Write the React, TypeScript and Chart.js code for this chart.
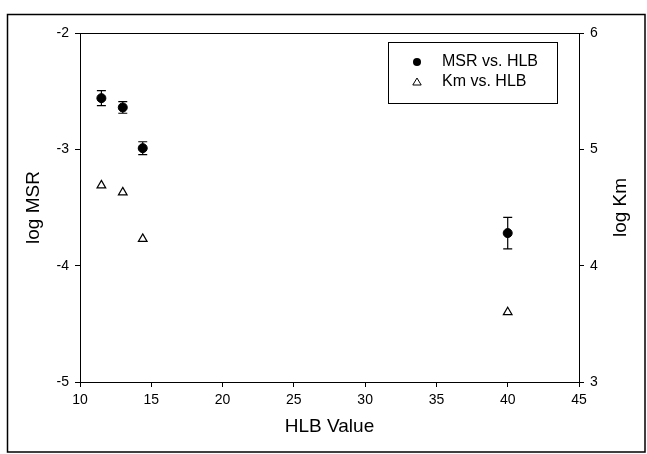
import { useEffect, useRef } from "react";
import { Chart, registerables } from "chart.js";

Chart.register(...registerables);

// ---- data ----
const hlbValues = [11.5, 13.0, 14.4, 40];
const logMSR = [-2.56, -2.64, -2.99, -3.72];
const logMSRError = [0.065, 0.05, 0.055, 0.135];
const logKm = [4.69, 4.63, 4.23, 3.6];
const seriesLabels = ["MSR vs. HLB", "Km vs. HLB"];
const xTitle = "HLB Value";
const yLeftTitle = "log MSR";
const yRightTitle = "log Km";
const xRange = [10, 45];
const yLeftRange = [-5, -2];
const yRightRange = [3, 6];

const FONT = "'Liberation Sans', Arial, Helvetica, sans-serif";

const errorBarPlugin = {
  id: "errorBars",
  afterDatasetsDraw(chart: any) {
    const meta = chart.getDatasetMeta(0);
    const ys = chart.scales.y;
    const ctx = chart.ctx;
    ctx.save();
    ctx.strokeStyle = "#000";
    ctx.lineWidth = 1.2;
    meta.data.forEach((pt: any, i: number) => {
      const v = logMSR[i];
      const e = logMSRError[i];
      const yT = ys.getPixelForValue(v + e);
      const yB = ys.getPixelForValue(v - e);
      const x = pt.x;
      ctx.beginPath();
      ctx.moveTo(x, yT);
      ctx.lineTo(x, yB);
      ctx.moveTo(x - 4.5, yT);
      ctx.lineTo(x + 4.5, yT);
      ctx.moveTo(x - 4.5, yB);
      ctx.lineTo(x + 4.5, yB);
      ctx.stroke();
    });
    ctx.restore();
  },
};

const framePlugin = {
  id: "frameAndLegend",
  beforeDraw(chart: any) {
    const ctx = chart.ctx;
    ctx.save();
    ctx.fillStyle = "#fff";
    ctx.fillRect(0, 0, chart.width, chart.height);
    ctx.restore();
  },
  afterDraw(chart: any) {
    const ctx = chart.ctx;
    const ca = chart.chartArea;
    ctx.save();
    // outer frame
    ctx.strokeStyle = "#000";
    ctx.lineWidth = 1.5;
    ctx.strokeRect(7.5, 14.5, 637.5, 437.5);
    // top border of plot
    ctx.lineWidth = 1;
    ctx.beginPath();
    ctx.moveTo(ca.left, ca.top + 0.5);
    ctx.lineTo(ca.right, ca.top + 0.5);
    ctx.stroke();
    // right axis title (reads bottom to top)
    ctx.fillStyle = "#000";
    ctx.font = `19px ${FONT}`;
    ctx.textAlign = "center";
    ctx.textBaseline = "middle";
    ctx.translate(621, (ca.top + ca.bottom) / 2);
    ctx.rotate(-Math.PI / 2);
    ctx.fillText(yRightTitle, 0, 0);
    ctx.setTransform(1, 0, 0, 1, 0, 0);
    // legend
    const bw = 169;
    const bh = 61;
    const bx = ca.right - 22 - bw;
    const by = ca.top + 9;
    ctx.lineWidth = 1;
    ctx.strokeRect(Math.round(bx) + 0.5, Math.round(by) + 0.5, bw, bh);
    const symX = bx + 29;
    const txtX = bx + 54;
    const row1 = by + 20;
    const row2 = by + 40;
    ctx.beginPath();
    ctx.arc(symX, row1, 4, 0, Math.PI * 2);
    ctx.fillStyle = "#000";
    ctx.fill();
    ctx.beginPath();
    ctx.moveTo(symX, row2 - 4);
    ctx.lineTo(symX + 4.2, row2 + 3);
    ctx.lineTo(symX - 4.2, row2 + 3);
    ctx.closePath();
    ctx.stroke();
    ctx.font = `16px ${FONT}`;
    ctx.textAlign = "left";
    ctx.textBaseline = "middle";
    ctx.fillText(seriesLabels[0], txtX, row1);
    ctx.fillText(seriesLabels[1], txtX, row2);
    ctx.restore();
  },
};

export default function App() {
  const ref = useRef<HTMLCanvasElement>(null);
  useEffect(() => {
    const canvas = ref.current;
    if (!canvas) return;
    const axisCommon = {
      grid: {
        display: true,
        drawOnChartArea: false,
        drawTicks: true,
        tickLength: 5,
        color: "#000",
        lineWidth: 1,
      },
      border: { display: true, color: "#000", width: 1 },
    };
    const chart = new Chart(canvas, {
      type: "scatter",
      data: {
        datasets: [
          {
            label: seriesLabels[0],
            data: hlbValues.map((x, i) => ({ x, y: logMSR[i] })),
            yAxisID: "y",
            pointStyle: "circle",
            pointRadius: 4.5,
            pointBackgroundColor: "#000",
            pointBorderColor: "#000",
            pointBorderWidth: 1,
            showLine: false,
          },
          {
            label: seriesLabels[1],
            data: hlbValues.map((x, i) => ({ x, y: logKm[i] })),
            yAxisID: "y2",
            pointStyle: "triangle",
            pointRadius: 5,
            pointBackgroundColor: "#fff",
            pointBorderColor: "#000",
            pointBorderWidth: 1.2,
            showLine: false,
          },
        ],
      },
      options: {
        responsive: false,
        animation: false,
        devicePixelRatio: 1,
        layout: { padding: { top: 33, left: 0, right: 0, bottom: 0 } },
        plugins: {
          legend: { display: false },
          tooltip: { enabled: false },
        },
        scales: {
          x: {
            type: "linear",
            position: "bottom",
            min: xRange[0],
            max: xRange[1],
            ticks: {
              stepSize: 5,
              color: "#000",
              font: { family: FONT, size: 14 },
              padding: 5,
            },
            title: {
              display: true,
              text: xTitle,
              color: "#000",
              font: { family: FONT, size: 19 },
              padding: { top: 0, bottom: 16 },
            },
            afterFit(scale: any) {
              scale.height = 72;
            },
            ...axisCommon,
          },
          y: {
            type: "linear",
            position: "left",
            min: yLeftRange[0],
            max: yLeftRange[1],
            ticks: {
              stepSize: 1,
              color: "#000",
              font: { family: FONT, size: 14 },
              padding: 6,
            },
            title: {
              display: true,
              text: yLeftTitle,
              color: "#000",
              font: { family: FONT, size: 19 },
              padding: { top: 22, bottom: 0 },
            },
            afterFit(scale: any) {
              scale.width = 80;
            },
            ...axisCommon,
          },
          y2: {
            type: "linear",
            position: "right",
            min: yRightRange[0],
            max: yRightRange[1],
            ticks: {
              stepSize: 1,
              color: "#000",
              font: { family: FONT, size: 14 },
              padding: 6,
            },
            title: { display: false, text: yRightTitle },
            afterFit(scale: any) {
              scale.width = 68;
            },
            ...axisCommon,
          },
        },
      },
      plugins: [framePlugin, errorBarPlugin],
    } as any);
    return () => chart.destroy();
  }, []);
  return (
    <div
      style={{
        position: "fixed",
        left: 0,
        top: 0,
        width: 647,
        height: 454,
        background: "#fff",
      }}
    >
      <canvas
        ref={ref}
        width={647}
        height={454}
        style={{ display: "block", width: 647, height: 454 }}
      />
    </div>
  );
}
